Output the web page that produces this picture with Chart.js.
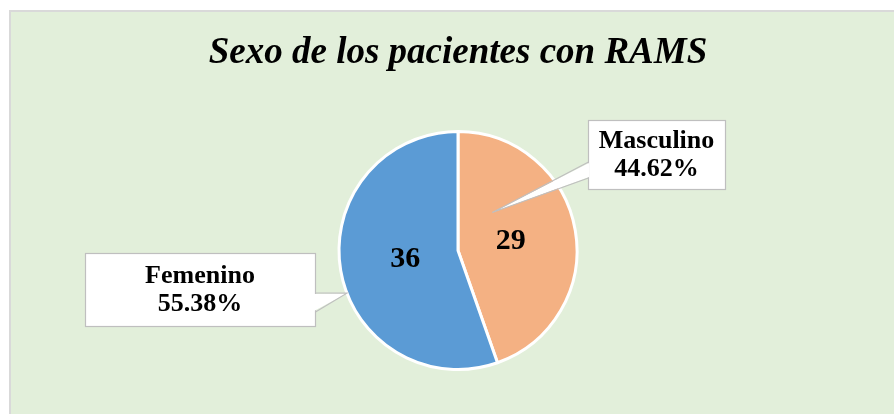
<!DOCTYPE html>
<html>
<head>
<meta charset="utf-8">
<script src="https://cdn.jsdelivr.net/npm/chart.js@4/dist/chart.umd.min.js"></script>
<style>
  html, body { margin: 0; padding: 0; background: #ffffff; }
  #wrap { width: 894px; height: 414px; }
</style>
</head>
<body>
<div id="wrap"><canvas id="myChart" width="894" height="414"></canvas></div>
<script>
const labels = ['Masculino', 'Femenino'];
const values = [29, 36];
const colors = ['#F4B183', '#5B9BD5'];
const titleText = 'Sexo de los pacientes con RAMS';

const total = values.reduce((a, b) => a + b, 0);
const percents = values.map(v => (v / total * 100).toFixed(2) + '%');

// callout boxes (annotation layout, not data)
const callouts = [
  { box: [588, 120, 137, 69], base: [[588, 162], [588, 178]], tipAngle: 48, tipR: 0.43 },
  { box: [85, 253, 230, 73], base: [[315, 293], [315, 312]], tipAngle: -159, tipR: 1.0 }
];

const serif = '"Liberation Serif", "Times New Roman", serif';

const bgPlugin = {
  id: 'bg',
  beforeDraw(chart) {
    const ctx = chart.ctx;
    ctx.save();
    ctx.fillStyle = '#ffffff';
    ctx.fillRect(0, 0, chart.width, chart.height);
    ctx.fillStyle = '#D9D9D9';
    ctx.fillRect(9, 10, chart.width - 9, chart.height - 10);
    ctx.fillStyle = '#E2EFDA';
    ctx.fillRect(11, 12, chart.width - 11, chart.height - 12);
    ctx.restore();
  }
};

const labelPlugin = {
  id: 'sliceLabels',
  afterDatasetsDraw(chart) {
    const ctx = chart.ctx;
    const arcs = chart.getDatasetMeta(0).data;
    ctx.save();
    ctx.font = 'bold 30px ' + serif;
    ctx.fillStyle = '#000';
    ctx.textAlign = 'center';
    ctx.textBaseline = 'middle';
    arcs.forEach((arc, i) => {
      const p = arc.getProps(['x', 'y', 'startAngle', 'endAngle', 'outerRadius'], true);
      const mid = (p.startAngle + p.endAngle) / 2;
      const d = p.outerRadius * 0.45;
      ctx.fillText(String(values[i]), p.x + Math.cos(mid) * d, p.y + Math.sin(mid) * d);
    });

    // callouts
    const p0 = arcs[0].getProps(['x', 'y', 'outerRadius'], true);
    callouts.forEach((c, i) => {
      const [bx, by, bw, bh] = c.box;
      const a = c.tipAngle * Math.PI / 180;
      const tx = p0.x + Math.cos(a) * p0.outerRadius * c.tipR;
      const ty = p0.y - Math.sin(a) * p0.outerRadius * c.tipR;
      ctx.lineWidth = 1.2;
      ctx.strokeStyle = '#BFBFBF';
      ctx.fillStyle = '#ffffff';
      // box
      ctx.fillRect(bx, by, bw, bh);
      ctx.strokeRect(bx + 0.5, by + 0.5, bw, bh);
      // wedge (covers the box edge where it joins)
      ctx.beginPath();
      ctx.moveTo(c.base[0][0] + (tx > bx ? -1 : 1), c.base[0][1] + 1);
      ctx.lineTo(tx, ty);
      ctx.lineTo(c.base[1][0] + (tx > bx ? -1 : 1), c.base[1][1] - 1);
      ctx.closePath();
      ctx.fill();
      ctx.beginPath();
      ctx.moveTo(c.base[0][0] + 0.5, c.base[0][1]);
      ctx.lineTo(tx, ty);
      ctx.lineTo(c.base[1][0] + 0.5, c.base[1][1]);
      ctx.stroke();

      ctx.fillStyle = '#000';
      ctx.font = 'bold 26px ' + serif;
      ctx.fillText(labels[i], bx + bw / 2, by + bh / 2 - 13);
      ctx.fillText(percents[i], bx + bw / 2, by + bh / 2 + 15);
    });
    ctx.restore();
  }
};

const data = {
  labels: labels,
  datasets: [{
    data: values,
    backgroundColor: colors,
    borderColor: '#ffffff',
    borderWidth: 3
  }]
};

const config = {
  type: 'pie',
  data,
  options: {
    responsive: false,
    animation: false,
    radius: 119,
    layout: { padding: { left: 22, right: 0, top: 0, bottom: 8.4 } },
    plugins: {
      legend: { display: false },
      tooltip: { enabled: false },
      title: {
        display: true,
        text: titleText,
        color: '#000',
        font: { family: serif, size: 37, weight: 'bold', style: 'italic' },
        padding: { top: 31, bottom: 20 }
      }
    }
  },
  plugins: [bgPlugin, labelPlugin]
};

var myChart = new Chart(document.getElementById('myChart'), config);
</script>
</body>
</html>
